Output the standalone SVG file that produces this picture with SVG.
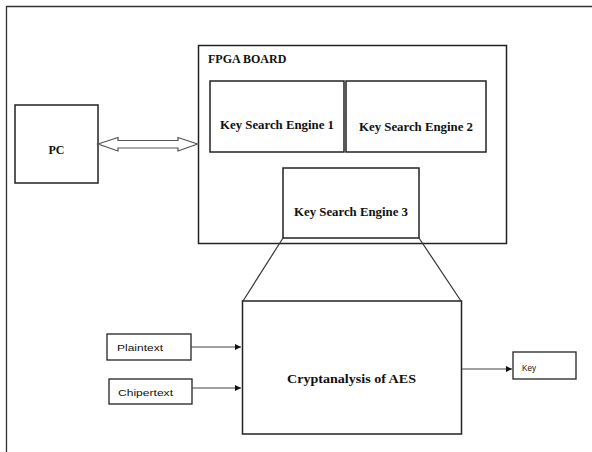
<svg xmlns="http://www.w3.org/2000/svg" width="592" height="452" viewBox="0 0 592 452">
  <defs>
    <marker id="tri" viewBox="0 0 6 6" refX="6" refY="3" markerWidth="6" markerHeight="6" markerUnits="userSpaceOnUse" orient="auto">
      <path d="M0,0 L6,3 L0,6 z" fill="#111"/>
    </marker>
    <style>
      .box { fill: #fff; stroke: #222; stroke-width: 1.5; }
      .thin { fill: #fff; stroke: #222; stroke-width: 1.3; }
      .serif { font-family: "Liberation Serif", "Times New Roman", serif; font-weight: bold; fill: #111; }
      .sans { font-family: "Liberation Sans", Arial, sans-serif; fill: #111; font-size: 9px; }
      .link { fill: none; stroke: #444; stroke-width: 1.2; }
    </style>
  </defs>
  <rect width="592" height="452" fill="#fff"/>

  <!-- outer frame (open to the right and bottom) -->
  <path d="M6.5,452 L6.5,6.5 L592,6.5" fill="none" stroke="#333" stroke-width="1.3"/>

  <g id="pc">
    <rect class="box" x="15" y="105" width="83" height="78"/>
    <text class="serif" x="56.5" y="154" font-size="12" text-anchor="middle">PC</text>
  </g>

  <g id="fpga-board">
    <rect class="box" x="198.5" y="45.5" width="308" height="198"/>
    <text class="serif" x="208" y="63" font-size="12">FPGA BOARD</text>
  </g>

  <g id="kse1">
    <rect class="box" x="210" y="81" width="134" height="71"/>
    <text class="serif" x="277" y="129" font-size="11.5" text-anchor="middle" textLength="114" lengthAdjust="spacingAndGlyphs">Key Search Engine 1</text>
  </g>

  <g id="kse2">
    <rect class="box" x="346" y="81" width="140" height="71"/>
    <text class="serif" x="416" y="131" font-size="11.5" text-anchor="middle" textLength="114" lengthAdjust="spacingAndGlyphs">Key Search Engine 2</text>
  </g>

  <g id="kse3">
    <rect class="box" x="283" y="168" width="136" height="70"/>
    <text class="serif" x="351" y="216" font-size="11.5" text-anchor="middle" textLength="114" lengthAdjust="spacingAndGlyphs">Key Search Engine 3</text>
  </g>

  <g id="cryptanalysis">
    <rect class="box" x="242.5" y="301" width="219" height="133"/>
    <text class="serif" x="351.5" y="383" font-size="12" text-anchor="middle" textLength="129" lengthAdjust="spacingAndGlyphs">Cryptanalysis of AES</text>
  </g>

  <g id="plaintext">
    <rect class="thin" x="107" y="334" width="84" height="26"/>
    <text class="sans" x="117" y="351" textLength="46" lengthAdjust="spacingAndGlyphs">Plaintext</text>
  </g>

  <g id="chipertext">
    <rect class="thin" x="109" y="379" width="83" height="25"/>
    <text class="sans" x="118" y="396" textLength="55" lengthAdjust="spacingAndGlyphs">Chipertext</text>
  </g>

  <g id="key">
    <rect class="thin" x="513" y="352" width="63" height="27"/>
    <text class="sans" x="522" y="371" font-size="9.5" textLength="14" lengthAdjust="spacingAndGlyphs">Key</text>
  </g>

  <g id="connectors">
    <!-- hollow two-way link between PC and board -->
    <path d="M98,144 L118,137.5 L118,140.5 L178,140.5 L178,137.5 L197.5,144 L178,151 L178,148 L118,148 L118,151 Z" fill="#fff" stroke="#555" stroke-width="1.2"/>
    <!-- expansion of engine 3 -->
    <line x1="283" y1="238" x2="243" y2="301" stroke="#333" stroke-width="1.2"/>
    <line x1="419" y1="238" x2="461" y2="301" stroke="#333" stroke-width="1.2"/>
    <!-- inputs and output -->
    <line class="link" x1="191" y1="347" x2="241" y2="347" marker-end="url(#tri)"/>
    <line class="link" x1="192" y1="388" x2="241" y2="388" marker-end="url(#tri)" stroke="#222"/>
    <line class="link" x1="462" y1="369" x2="512" y2="369" marker-end="url(#tri)"/>
  </g>
</svg>
